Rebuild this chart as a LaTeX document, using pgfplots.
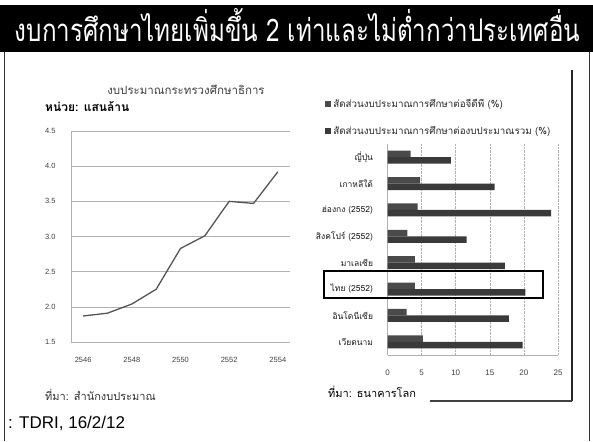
\documentclass[border=0pt]{standalone}
\usepackage{pgfplots}
\usepackage{pgfplotstable}
\pgfplotsset{compat=1.18}
\usepackage{fontspec}
\setmainfont{Liberation Sans}
\newfontfamily\thai[Script=Thai]{Loma}

\definecolor{barA}{HTML}{4A4A4A}
\definecolor{barB}{HTML}{3A3A3A}
\definecolor{lineC}{HTML}{555555}
\definecolor{gridC}{HTML}{B0B0B0}

% budget of the Ministry of Education, hundred billion baht
\pgfplotstableread{
year value
2546 1.87
2547 1.91
2548 2.04
2549 2.25
2550 2.83
2551 3.01
2552 3.50
2553 3.47
2554 3.92
}\budget

% education budget share: of GDP (gdp) and of total budget (tot), %
\pgfplotstableread{
pos gdp tot
0 3.4 9.3
1 4.8 15.7
2 4.4 24.0
3 2.9 11.6
4 4.0 17.2
5 4.0 20.2
6 2.8 17.8
7 5.2 19.8
}\share

\begin{document}
\begin{tikzpicture}
\useasboundingbox (0,0) rectangle (593pt,441pt);
\fill[white] (0,0) rectangle (593pt,441pt);

% title bar
\fill[black] (0,389pt) rectangle (593pt,436pt);
\node[text=white, anchor=base, inner sep=0pt] at (297.5pt,399pt)
  {\resizebox{565pt}{33pt}{\thai งบการศึกษาไทยเพิ่มขึ้น 2 เท่าและไม่ต่ำกว่าประเทศอื่น}};
\draw[black!80, line width=0.8pt] (4pt,0) -- (4pt,389pt);
\draw[black!80, line width=0.8pt] (589pt,0) -- (589pt,389pt);

% left chart
\begin{axis}[
    at={(71pt,99pt)}, anchor=south west,
    scale only axis, width=219pt, height=211pt,
    xmin=2545.5, xmax=2554.5,
    ymin=1.5, ymax=4.5,
    xtick={2546,2548,2550,2552,2554},
    ytick={1.5,2.0,2.5,3.0,3.5,4.0,4.5},
    axis x line*=bottom, axis y line*=left,
    axis line style={gridC, line width=0.6pt, -},
    major tick length=0pt,
    ymajorgrids, grid style={gridC, line width=0.6pt},
    /pgf/number format/assume math mode=true,
    xticklabel={\pgfmathprintnumber[1000 sep={}]{\tick}},
    yticklabel={\pgfmathprintnumber[fixed, fixed zerofill, precision=1]{\tick}},
    ticklabel style={font=\fontsize{7.5}{8}\selectfont, text=black!75},
    xticklabel style={yshift=-12pt},
    yticklabel style={xshift=-12pt},
]
\addplot[lineC, line width=1.3pt] table[x=year, y=value] {\budget};
\end{axis}
\node[font=\thai\fontsize{11.5}{12}\selectfont, text=black!75] at (186pt,351pt) {งบประมาณกระทรวงศึกษาธิการ};
\node[font=\thai\bfseries\fontsize{12}{13}\selectfont, anchor=west, inner sep=0pt] at (45pt,334pt) {หน่วย: แสนล้าน};
\node[font=\thai\fontsize{11}{12}\selectfont, anchor=west, inner sep=0pt, text=black!80] at (45pt,46pt) {ที่มา: สำนักงบประมาณ};

% right chart
\begin{axis}[
    at={(387.5pt,86pt)}, anchor=south west,
    scale only axis, width=170.5pt, height=211pt,
    xbar, bar width=6.5pt,
    xmin=0, xmax=25,
    ymin=-0.5, ymax=7.5, y dir=reverse,
    xtick={0,5,10,15,20,25},
    ytick={0,...,7},
    yticklabels={ญี่ปุ่น, เกาหลีใต้, ฮ่องกง (2552), สิงคโปร์ (2552), มาเลเซีย, ไทย (2552), อินโดนีเซีย, เวียดนาม},
    axis x line*=bottom, axis y line*=left,
    x axis line style={draw=none},
    y axis line style={gridC, line width=0.6pt, -},
    major tick length=0pt,
    xmajorgrids, grid style={gridC, densely dotted, line width=0.6pt},
    /pgf/number format/assume math mode=true,
    xticklabel style={font=\fontsize{8}{9}\selectfont, text=black!75, yshift=-11pt},
    yticklabel style={font=\thai\fontsize{8.5}{9}\selectfont, text=black!90, xshift=-11pt},
    legend style={at={(axis description cs:-0.366,1.222)}, anchor=north west,
        draw=none, fill=none, inner sep=0pt, row sep=13pt,
        font=\thai\fontsize{9.8}{10}\selectfont, text=black!85,
        legend cell align=left},
    legend image code/.code={\fill[#1] (0pt,-3pt) rectangle (6pt,3pt);},
]
\addplot[draw=none, fill=barA, bar shift=3.25pt] table[x=gdp, y=pos] {\share};
\addlegendentry{สัดส่วนงบประมาณการศึกษาต่อจีดีพี (\%)}
\addplot[draw=none, fill=barB, bar shift=-3.25pt] table[x=tot, y=pos] {\share};
\addlegendentry{สัดส่วนงบประมาณการศึกษาต่องบประมาณรวม (\%)}
\draw[gridC, line width=0.6pt] (rel axis cs:0,0) -- (rel axis cs:1,0);
\end{axis}
\draw[black, line width=1.3pt] (324pt,143pt) rectangle (543pt,170pt);
\node[font=\thai\fontsize{11}{12}\selectfont, anchor=west, inner sep=0pt] at (328pt,49pt) {ที่มา: ธนาคารโลก};
\draw[black!85, line width=2pt] (572pt,371pt) -- (572pt,40pt);
\draw[black!75, line width=1.3pt] (430pt,40pt) -- (572pt,40pt);

\node[font=\fontsize{17}{18}\selectfont, anchor=west, inner sep=0pt] at (8pt,18pt) {: TDRI, 16/2/12};
\end{tikzpicture}
\end{document}
